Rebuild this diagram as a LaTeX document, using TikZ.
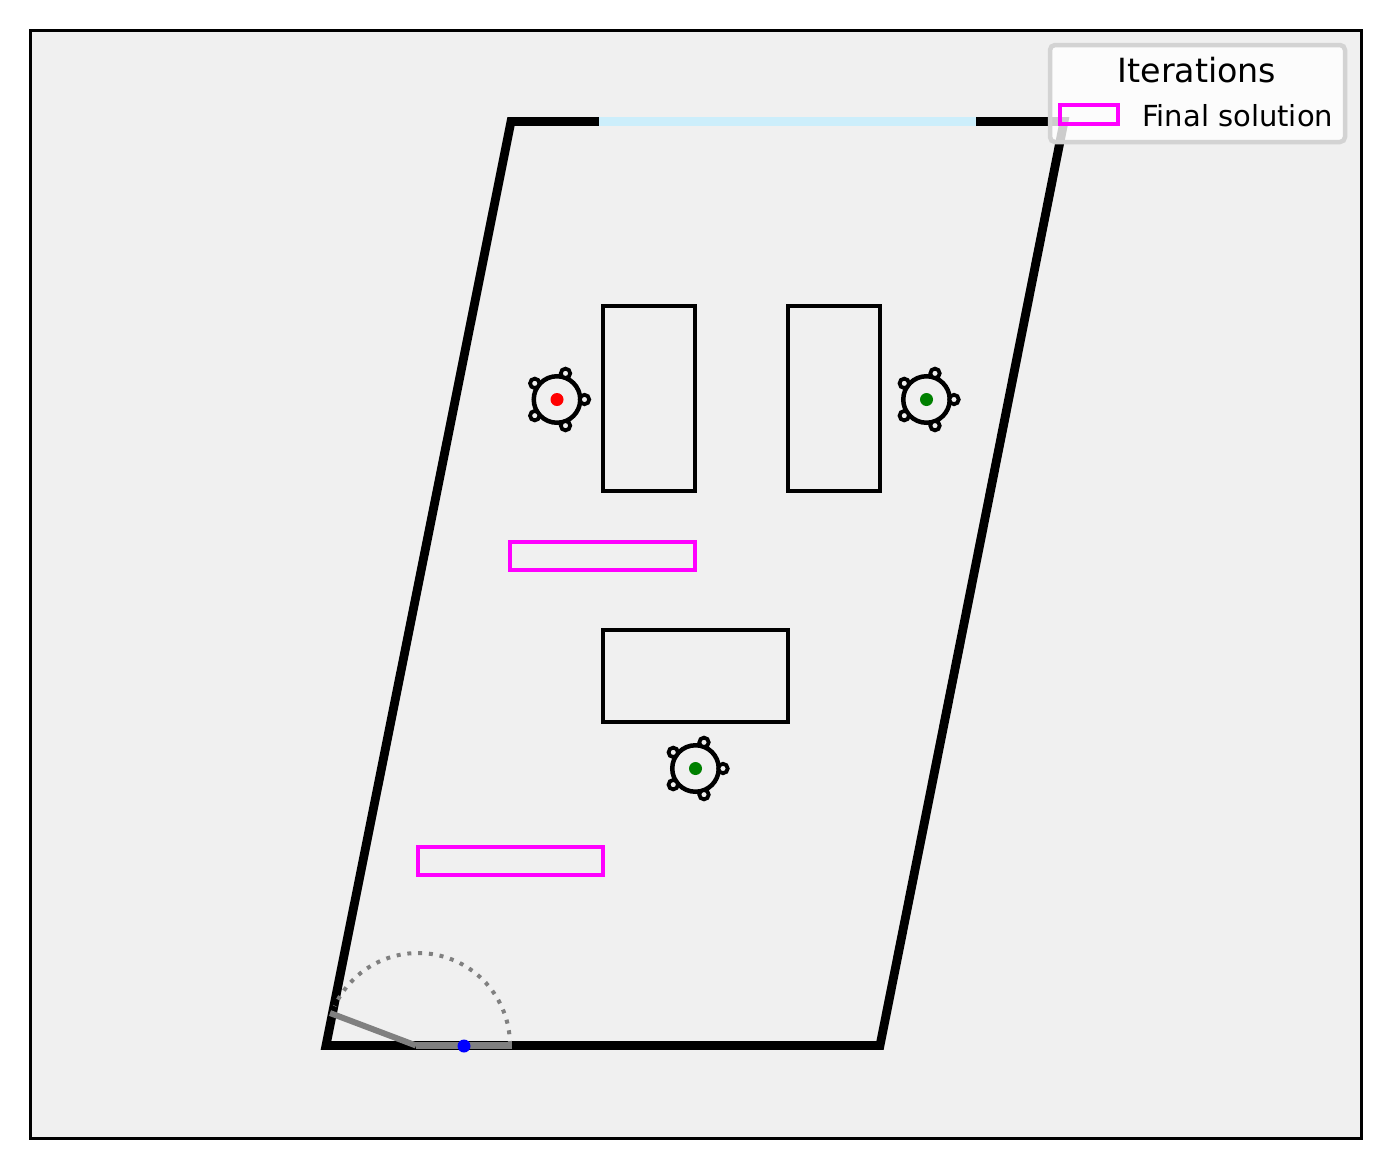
\documentclass[tikz,border=0pt]{standalone}
\usepackage{fontspec}
\setmainfont{DejaVu Sans}
\usepackage{xcolor}
\usetikzlibrary{positioning, calc}
\definecolor{floorgray}{HTML}{F0F0F0}
\definecolor{windowblue}{HTML}{CCEEFB}
\definecolor{legendgray}{HTML}{D3D3D3}
\definecolor{solutionpink}{HTML}{FF00FF}
\newcommand{\chair}[3]{
  \node[seat, draw=black] (#1) at (#2) {};
  \foreach \a in {0,72,144,216,288}
    \node[knob] at ($(#1)+(\a:27.5)$) {};
  \node[dot, fill=#3] (#1dot) at (#1) {};
}
\begin{document}
\begin{tikzpicture}[
    x=1pt, y=-1pt,
    table/.style={draw=black, line width=3.6pt, rectangle, inner sep=0pt, minimum width=#1},
    table/.default=92pt,
    seat/.style={circle, line width=4.5pt, inner sep=0pt, minimum size=46.5pt},
    knob/.style={circle, draw=black, fill=floorgray, line width=3.8pt, inner sep=0pt, minimum size=9.4pt},
    dot/.style={circle, inner sep=0pt, minimum size=13pt},
    solution/.style={draw=solutionpink, line width=3.6pt, rectangle, inner sep=0pt}
]
\useasboundingbox (0,0) rectangle (1390,1168);
\draw[black, line width=3pt, fill=floorgray] (30,30) rectangle (1361,1138);

% room
\coordinate (sw) at (326,1045.5);
\coordinate (se) at (880,1045.5);
\coordinate (ne) at (1064,121.5);
\coordinate (nw) at (511,121.5);
\draw[black, line width=8.8pt, miter limit=10] (sw) -- (se) -- (ne) -- (nw) -- cycle;

% window
\coordinate (winl) at (599,121.5);
\coordinate (winr) at (976,121.5);
\draw[windowblue, line width=8.2pt] (winl) -- (winr);

% door
\coordinate (hinge) at (416,1045.5);
\coordinate (jamb) at (512,1045.5);
\coordinate (leaf) at (330,1013);
\draw[gray, line width=4pt, dash pattern=on 4pt off 6.8pt] (510,1045) arc[start angle=0, end angle=-155, radius=92];
\draw[gray, line width=6.5pt] (hinge) -- (jamb);
\draw[gray, line width=6pt] (hinge) -- (leaf);
\node[dot, fill=blue] (doorpt) at (464,1046) {};

% tables
\node[table, minimum height=185pt] (tablea) at (649,398.5) {};
\node[table, minimum height=185pt] (tableb) at (834,398.5) {};
\node[table=185pt, minimum height=92pt] (tablec) at (695.5,676) {};

% chairs
\chair{chaira}{557,399.5}{red}
\chair{chairb}{926.5,399.5}{green!50!black}
\chair{chairc}{695.5,768.5}{green!50!black}

% final solutions
\node[solution, minimum width=185pt, minimum height=28pt] (sola) at (602.5,556) {};
\node[solution, minimum width=185pt, minimum height=28pt] (solb) at (510.5,861) {};

% legend
\node[draw=legendgray, fill=white, fill opacity=0.8, draw opacity=1, line width=4.5pt, rounded corners=5pt, minimum width=295pt, minimum height=97pt, inner sep=0pt] (legend) at (1197.5,93.5) {};
\node[font=\fontsize{33.3}{36}\selectfont, inner sep=0pt] (legendtitle) at (1197,70.5) {Iterations};
\node[solution, minimum width=58pt, minimum height=19pt] (legendkey) at (1089,114.5) {};
\node[font=\fontsize{29}{32}\selectfont, inner sep=0pt, anchor=base west] (legendtext) at (1142,126.5) {Final solution};
\end{tikzpicture}
\end{document}
